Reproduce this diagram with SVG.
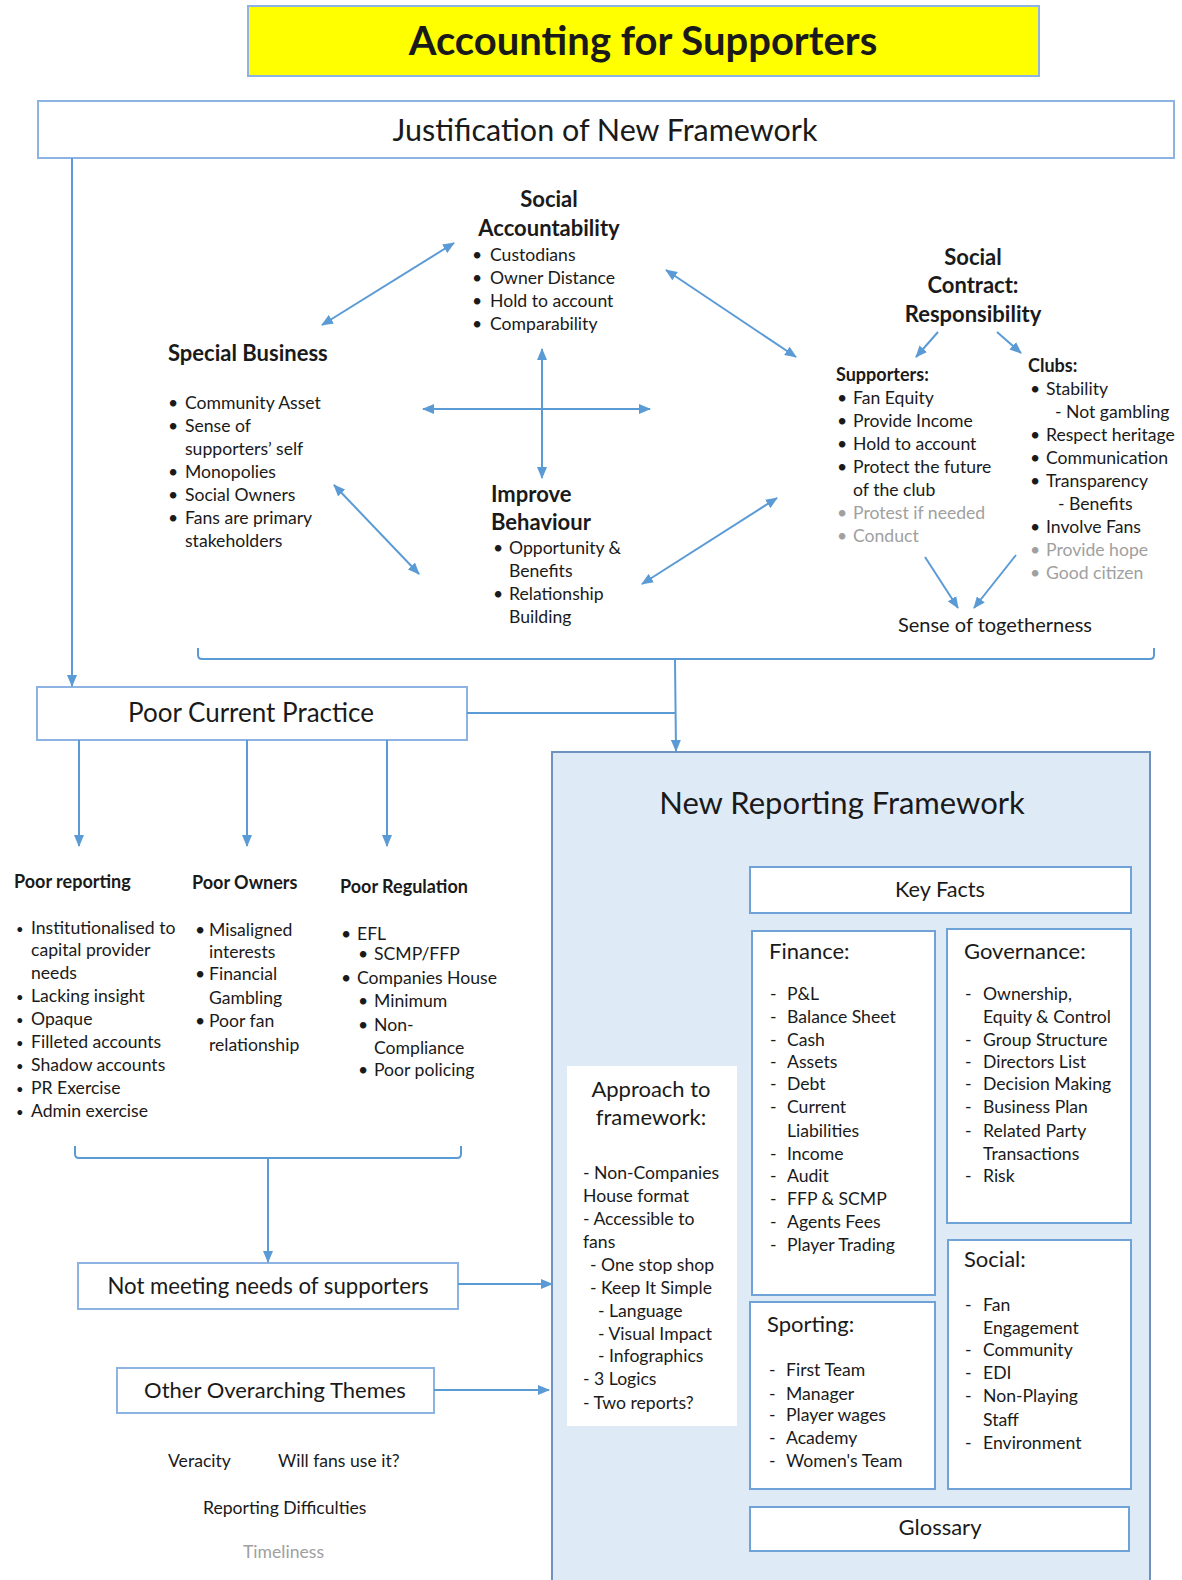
<svg xmlns="http://www.w3.org/2000/svg" width="1182" height="1580" viewBox="0 0 1182 1580">
  <style>
    text { font-family: Lato, "Liberation Sans", sans-serif; fill: #1a1a1a; }
    .t16 { font-size: 17.6px; }
    .b16 { font-size: 18px; font-weight: bold; }
    .b20 { font-size: 22px; font-weight: bold; }
    .h20 { font-size: 22px; }
    .grey { fill: #a0a0a0; }
    .mid { text-anchor: middle; }
    .box { fill: #ffffff; stroke: #8db3e2; stroke-width: 2; }
    .inner { fill: #ffffff; stroke: #6fa3d8; stroke-width: 2; }
    .conn { stroke: #5b9bd5; stroke-width: 2; fill: none; }
    .dot { font-size: 13px; }
  </style>
  <defs>
    <marker id="ah" viewBox="0 0 12 10" refX="11" refY="5" markerWidth="12" markerHeight="10" orient="auto-start-reverse" markerUnits="userSpaceOnUse">
      <path d="M0,0 L12,5 L0,10 z" fill="#5b9bd5"/>
    </marker>
  </defs>

  <!-- heading -->
  <g id="title">
    <rect x="248" y="6" width="791" height="70" fill="#ffff00" stroke="#8db3e2" stroke-width="2"/>
    <text x="643" y="55" class="mid" style="font-size:40px;font-weight:bold">Accounting for Supporters</text>
  </g>

  <g id="justification">
    <rect x="38" y="101" width="1136" height="57" class="box"/>
    <text x="605" y="141" class="mid" style="font-size:30.5px">Justification of New Framework</text>
  </g>

  <!-- justification themes -->
  <g id="social-accountability">
    <text x="549" y="207" class="b20 mid">Social</text>
    <text x="549" y="236" class="b20 mid">Accountability</text>
    <text x="472" y="261" class="t16">•</text><text x="490" y="261" class="t16">Custodians</text>
    <text x="472" y="284" class="t16">•</text><text x="490" y="284" class="t16">Owner Distance</text>
    <text x="472" y="307" class="t16">•</text><text x="490" y="307" class="t16">Hold to account</text>
    <text x="472" y="330" class="t16">•</text><text x="490" y="330" class="t16">Comparability</text>
  </g>

  <g id="special-business">
    <text x="168" y="361" class="b20">Special Business</text>
    <text x="168" y="409" class="t16">•</text><text x="185" y="409" class="t16">Community Asset</text>
    <text x="168" y="432" class="t16">•</text><text x="185" y="432" class="t16">Sense of</text>
    <text x="185" y="455" class="t16">supporters’ self</text>
    <text x="168" y="478" class="t16">•</text><text x="185" y="478" class="t16">Monopolies</text>
    <text x="168" y="501" class="t16">•</text><text x="185" y="501" class="t16">Social Owners</text>
    <text x="168" y="524" class="t16">•</text><text x="185" y="524" class="t16">Fans are primary</text>
    <text x="185" y="547" class="t16">stakeholders</text>
  </g>

  <g id="improve-behaviour">
    <text x="491" y="502" class="b20">Improve</text>
    <text x="491" y="530" class="b20">Behaviour</text>
    <text x="493" y="554" class="t16">•</text><text x="509" y="554" class="t16">Opportunity &amp;</text>
    <text x="509" y="577" class="t16">Benefits</text>
    <text x="493" y="600" class="t16">•</text><text x="509" y="600" class="t16">Relationship</text>
    <text x="509" y="623" class="t16">Building</text>
  </g>

  <g id="social-contract">
    <text x="973" y="265" class="b20 mid">Social</text>
    <text x="973" y="293" class="b20 mid">Contract:</text>
    <text x="973" y="322" class="b20 mid">Responsibility</text>
  </g>

  <g id="supporters">
    <text x="836" y="381" class="b16">Supporters:</text>
    <text x="837" y="404" class="t16">•</text><text x="853" y="404" class="t16">Fan Equity</text>
    <text x="837" y="427" class="t16">•</text><text x="853" y="427" class="t16">Provide Income</text>
    <text x="837" y="450" class="t16">•</text><text x="853" y="450" class="t16">Hold to account</text>
    <text x="837" y="473" class="t16">•</text><text x="853" y="473" class="t16">Protect the future</text>
    <text x="853" y="496" class="t16">of the club</text>
    <text x="837" y="519" class="t16 grey">•</text><text x="853" y="519" class="t16 grey">Protest if needed</text>
    <text x="837" y="542" class="t16 grey">•</text><text x="853" y="542" class="t16 grey">Conduct</text>
  </g>

  <g id="clubs">
    <text x="1028" y="372" class="b16">Clubs:</text>
    <text x="1030" y="395" class="t16">•</text><text x="1046" y="395" class="t16">Stability</text>
    <text x="1055" y="418" class="t16">- Not gambling</text>
    <text x="1030" y="441" class="t16">•</text><text x="1046" y="441" class="t16">Respect heritage</text>
    <text x="1030" y="464" class="t16">•</text><text x="1046" y="464" class="t16">Communication</text>
    <text x="1030" y="487" class="t16">•</text><text x="1046" y="487" class="t16">Transparency</text>
    <text x="1058" y="510" class="t16">- Benefits</text>
    <text x="1030" y="533" class="t16">•</text><text x="1046" y="533" class="t16">Involve Fans</text>
    <text x="1030" y="556" class="t16 grey">•</text><text x="1046" y="556" class="t16 grey">Provide hope</text>
    <text x="1030" y="579" class="t16 grey">•</text><text x="1046" y="579" class="t16 grey">Good citizen</text>
  </g>

  <g id="togetherness">
    <text x="995" y="632" class="mid" style="font-size:20px">Sense of togetherness</text>
  </g>

  <!-- current practice -->
  <g id="poor-current-practice">
    <rect x="37" y="687" width="430" height="53" class="box"/>
    <text x="251" y="722" class="mid" style="font-size:26px">Poor Current Practice</text>
  </g>

  <g id="poor-reporting">
    <text x="14" y="888" class="b16">Poor reporting</text>
    <text x="16" y="934" class="dot">•</text><text x="31" y="934" class="t16">Institutionalised to</text>
    <text x="31" y="956" class="t16">capital provider</text>
    <text x="31" y="979" class="t16">needs</text>
    <text x="16" y="1002" class="dot">•</text><text x="31" y="1002" class="t16">Lacking insight</text>
    <text x="16" y="1025" class="dot">•</text><text x="31" y="1025" class="t16">Opaque</text>
    <text x="16" y="1048" class="dot">•</text><text x="31" y="1048" class="t16">Filleted accounts</text>
    <text x="16" y="1071" class="dot">•</text><text x="31" y="1071" class="t16">Shadow accounts</text>
    <text x="16" y="1094" class="dot">•</text><text x="31" y="1094" class="t16">PR Exercise</text>
    <text x="16" y="1117" class="dot">•</text><text x="31" y="1117" class="t16">Admin exercise</text>
  </g>

  <g id="poor-owners">
    <text x="192" y="889" class="b16">Poor Owners</text>
    <text x="195" y="936" class="t16">•</text><text x="209" y="936" class="t16">Misaligned</text>
    <text x="209" y="958" class="t16">interests</text>
    <text x="195" y="980" class="t16">•</text><text x="209" y="980" class="t16">Financial</text>
    <text x="209" y="1004" class="t16">Gambling</text>
    <text x="195" y="1027" class="t16">•</text><text x="209" y="1027" class="t16">Poor fan</text>
    <text x="209" y="1051" class="t16">relationship</text>
  </g>

  <g id="poor-regulation">
    <text x="340" y="893" class="b16">Poor Regulation</text>
    <text x="341" y="940" class="t16">•</text><text x="357" y="940" class="t16">EFL</text>
    <text x="358" y="960" class="t16">•</text><text x="374" y="960" class="t16">SCMP/FFP</text>
    <text x="341" y="984" class="t16">•</text><text x="357" y="984" class="t16">Companies House</text>
    <text x="358" y="1007" class="t16">•</text><text x="374" y="1007" class="t16">Minimum</text>
    <text x="358" y="1031" class="t16">•</text><text x="374" y="1031" class="t16">Non-</text>
    <text x="374" y="1054" class="t16">Compliance</text>
    <text x="358" y="1076" class="t16">•</text><text x="374" y="1076" class="t16">Poor policing</text>
  </g>

  <g id="not-meeting-needs">
    <rect x="78" y="1263" width="380" height="46" class="box"/>
    <text x="268" y="1294" class="mid" style="font-size:22.2px">Not meeting needs of supporters</text>
  </g>

  <g id="other-themes">
    <rect x="117" y="1368" width="317" height="45" class="box"/>
    <text x="275" y="1398" class="mid" style="font-size:22px">Other Overarching Themes</text>
  </g>

  <g id="theme-notes">
    <text x="168" y="1467" class="t16">Veracity</text>
    <text x="278" y="1467" class="t16">Will fans use it?</text>
    <text x="203" y="1514" class="t16">Reporting Difficulties</text>
    <text x="243" y="1558" class="t16 grey">Timeliness</text>
  </g>

  <!-- new reporting framework -->
  <g id="new-reporting-framework">
    <rect x="552" y="752" width="598" height="840" fill="#deebf7" stroke="#6f93c0" stroke-width="2"/>
    <text x="842" y="814" class="mid" style="font-size:31px">New Reporting Framework</text>
  </g>

  <g id="key-facts">
    <rect x="750" y="867" width="381" height="46" class="inner"/>
    <text x="940" y="897" class="mid" style="font-size:21.7px">Key Facts</text>
  </g>

  <g id="finance">
    <rect x="752" y="931" width="183" height="364" class="inner"/>
    <text x="769" y="959" class="h20">Finance:</text>
    <g class="t16">
      <text x="770" y="1000">-</text><text x="787" y="1000">P&amp;L</text>
      <text x="770" y="1023">-</text><text x="787" y="1023">Balance Sheet</text>
      <text x="770" y="1046">-</text><text x="787" y="1046">Cash</text>
      <text x="770" y="1068">-</text><text x="787" y="1068">Assets</text>
      <text x="770" y="1090">-</text><text x="787" y="1090">Debt</text>
      <text x="770" y="1113">-</text><text x="787" y="1113">Current</text>
      <text x="787" y="1137">Liabilities</text>
      <text x="770" y="1160">-</text><text x="787" y="1160">Income</text>
      <text x="770" y="1182">-</text><text x="787" y="1182">Audit</text>
      <text x="770" y="1205">-</text><text x="787" y="1205">FFP &amp; SCMP</text>
      <text x="770" y="1228">-</text><text x="787" y="1228">Agents Fees</text>
      <text x="770" y="1251">-</text><text x="787" y="1251">Player Trading</text>
    </g>
  </g>

  <g id="governance">
    <rect x="947" y="929" width="184" height="294" class="inner"/>
    <text x="964" y="959" class="h20">Governance:</text>
    <g class="t16">
      <text x="965" y="1000">-</text><text x="983" y="1000">Ownership,</text>
      <text x="983" y="1023">Equity &amp; Control</text>
      <text x="965" y="1046">-</text><text x="983" y="1046">Group Structure</text>
      <text x="965" y="1068">-</text><text x="983" y="1068">Directors List</text>
      <text x="965" y="1090">-</text><text x="983" y="1090">Decision Making</text>
      <text x="965" y="1113">-</text><text x="983" y="1113">Business Plan</text>
      <text x="965" y="1137">-</text><text x="983" y="1137">Related Party</text>
      <text x="983" y="1160">Transactions</text>
      <text x="965" y="1182">-</text><text x="983" y="1182">Risk</text>
    </g>
  </g>

  <g id="social">
    <rect x="948" y="1240" width="183" height="249" class="inner"/>
    <text x="964" y="1267" class="h20">Social:</text>
    <g class="t16">
      <text x="965" y="1311">-</text><text x="983" y="1311">Fan</text>
      <text x="983" y="1334">Engagement</text>
      <text x="965" y="1356">-</text><text x="983" y="1356">Community</text>
      <text x="965" y="1379">-</text><text x="983" y="1379">EDI</text>
      <text x="965" y="1402">-</text><text x="983" y="1402">Non-Playing</text>
      <text x="983" y="1426">Staff</text>
      <text x="965" y="1449">-</text><text x="983" y="1449">Environment</text>
    </g>
  </g>

  <g id="sporting">
    <rect x="750" y="1302" width="185" height="187" class="inner"/>
    <text x="767" y="1332" class="h20">Sporting:</text>
    <g class="t16">
      <text x="769" y="1376">-</text><text x="786" y="1376">First Team</text>
      <text x="769" y="1400">-</text><text x="786" y="1400">Manager</text>
      <text x="769" y="1421">-</text><text x="786" y="1421">Player wages</text>
      <text x="769" y="1444">-</text><text x="786" y="1444">Academy</text>
      <text x="769" y="1467">-</text><text x="786" y="1467">Women's Team</text>
    </g>
  </g>

  <g id="glossary">
    <rect x="750" y="1507" width="379" height="44" class="inner"/>
    <text x="940" y="1535" class="mid" style="font-size:22px">Glossary</text>
  </g>

  <g id="approach">
    <rect x="567" y="1066" width="170" height="360" fill="#ffffff"/>
    <text x="651" y="1097" class="h20 mid">Approach to</text>
    <text x="651" y="1125" class="h20 mid">framework:</text>
    <g class="t16">
      <text x="583" y="1179">- Non-Companies</text>
      <text x="583" y="1202">House format</text>
      <text x="583" y="1225">- Accessible to</text>
      <text x="583" y="1248">fans</text>
      <text x="590" y="1271">- One stop shop</text>
      <text x="590" y="1294">- Keep It Simple</text>
      <text x="598" y="1317">- Language</text>
      <text x="598" y="1340">- Visual Impact</text>
      <text x="598" y="1362">- Infographics</text>
      <text x="583" y="1385">- 3 Logics</text>
      <text x="583" y="1409">- Two reports?</text>
    </g>
  </g>

  <!-- connectors -->
  <g id="connectors">
    <line x1="72" y1="158" x2="72" y2="686" class="conn" marker-end="url(#ah)"/>
    <line x1="322" y1="325" x2="454" y2="243" class="conn" marker-start="url(#ah)" marker-end="url(#ah)"/>
    <line x1="666" y1="270" x2="796" y2="357" class="conn" marker-start="url(#ah)" marker-end="url(#ah)"/>
    <line x1="542" y1="349" x2="542" y2="478" class="conn" marker-start="url(#ah)" marker-end="url(#ah)"/>
    <line x1="423" y1="409" x2="650" y2="409" class="conn" marker-start="url(#ah)" marker-end="url(#ah)"/>
    <line x1="334" y1="485" x2="419" y2="574" class="conn" marker-start="url(#ah)" marker-end="url(#ah)"/>
    <line x1="642" y1="584" x2="777" y2="498" class="conn" marker-start="url(#ah)" marker-end="url(#ah)"/>
    <line x1="938" y1="332" x2="916" y2="357" class="conn" marker-end="url(#ah)"/>
    <line x1="997" y1="332" x2="1021" y2="353" class="conn" marker-end="url(#ah)"/>
    <line x1="925" y1="557" x2="958" y2="608" class="conn" marker-end="url(#ah)"/>
    <line x1="1016" y1="555" x2="974" y2="608" class="conn" marker-end="url(#ah)"/>
    <!-- brace under the justification themes -->
    <path d="M198,648 V655 Q198,659 202,659 H1150 Q1154,659 1154,655 V648" class="conn"/>
    <line x1="675" y1="659" x2="676" y2="751" class="conn" marker-end="url(#ah)"/>
    <line x1="467" y1="713" x2="675" y2="713" class="conn"/>
    <!-- current practice branches -->
    <line x1="79" y1="740" x2="79" y2="846" class="conn" marker-end="url(#ah)"/>
    <line x1="247" y1="740" x2="247" y2="846" class="conn" marker-end="url(#ah)"/>
    <line x1="387" y1="740" x2="387" y2="846" class="conn" marker-end="url(#ah)"/>
    <!-- brace under the three problem lists -->
    <path d="M75,1146 V1154 Q75,1158 79,1158 H457 Q461,1158 461,1154 V1146" class="conn"/>
    <line x1="268" y1="1158" x2="268" y2="1262" class="conn" marker-end="url(#ah)"/>
    <line x1="458" y1="1284" x2="552" y2="1284" class="conn" marker-end="url(#ah)"/>
    <line x1="434" y1="1390" x2="549" y2="1390" class="conn" marker-end="url(#ah)"/>
  </g>
</svg>
